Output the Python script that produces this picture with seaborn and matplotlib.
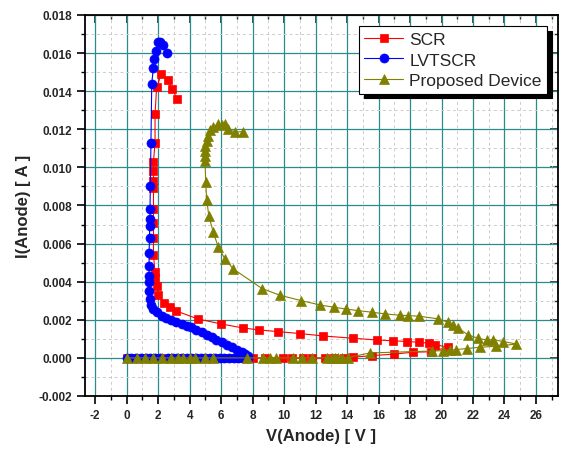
import matplotlib
matplotlib.use("Agg")
import matplotlib.pyplot as plt
import seaborn as sns
import pandas as pd
from matplotlib.ticker import MultipleLocator, FormatStrFormatter

# SCR: lower branch then snapback / upper branch
scr_v = [0.0, 0.6, 1.2, 1.8, 2.4, 2.9, 3.6, 4.3, 5.0, 5.8, 6.5, 7.2, 8.0, 8.8,
         9.9, 10.5, 11.2, 11.8, 12.6, 13.2, 13.8, 14.4, 15.6, 17.0, 18.2, 19.3, 20.4,
         19.6, 19.2, 18.6, 17.8, 16.9, 15.9, 14.4, 12.5, 11.0, 9.6, 8.4, 7.4, 6.0,
         4.5, 3.1, 2.75, 2.4, 2.0, 1.9, 1.8, 1.8, 1.7, 1.7, 1.7, 1.7, 1.7, 1.7,
         1.7, 1.7, 1.8, 1.8, 1.9, 2.2, 2.6, 2.9, 3.2]
scr_i = [0.0, 0.0, 0.0, 0.0, 0.0, 0.0, 0.0, 0.0, 0.0, 0.0, 0.0, 0.0, 0.0, 0.0,
         0.0, 0.0, 0.0, 0.0, 0.0, 0.0, 0.00002, 0.00004, 0.00012, 0.0002, 0.0003, 0.00032, 0.00056,
         0.0007, 0.00077, 0.00082, 0.00086, 0.0009, 0.00094, 0.00103, 0.00115, 0.00128, 0.00138, 0.00147, 0.00157, 0.00178,
         0.00205, 0.00248, 0.00266, 0.0029, 0.0033, 0.0038, 0.0042, 0.0045, 0.0054, 0.0063, 0.0071, 0.0078, 0.0089, 0.0093,
         0.0098, 0.0103, 0.0113, 0.0128, 0.0142, 0.0149, 0.0146, 0.0141, 0.0136]

# LVTSCR
lvt_v = [0.0, 0.3, 0.6, 0.9, 1.2, 1.5, 1.8, 2.1, 2.6, 2.9, 3.2, 3.5, 3.8, 4.1, 4.4,
         4.7, 5.0, 5.3, 5.6, 5.9, 6.2, 6.5, 6.8, 7.1, 7.4, 7.7,
         7.72, 7.5, 7.3, 7.0, 6.7, 6.4, 6.03, 5.7, 5.4, 5.1, 4.76, 4.4, 4.1, 3.8, 3.49,
         3.1, 2.8, 2.5, 2.22, 1.95, 1.69, 1.55, 1.45, 1.42, 1.42, 1.42, 1.42, 1.42,
         1.45, 1.45, 1.48, 1.48, 1.5, 1.54, 1.59, 1.69, 1.75, 1.84, 1.97, 2.11, 2.33, 2.54]
lvt_i = [0.0] * 26 + \
        [0.00012, 0.0002, 0.0003, 0.00044, 0.00058, 0.0007, 0.00082, 0.00096, 0.00108, 0.0012, 0.00135, 0.00148, 0.0016, 0.00168, 0.00178,
         0.0019, 0.002, 0.0021, 0.00222, 0.0024, 0.00255, 0.0028, 0.0031, 0.0035, 0.004, 0.0043, 0.0048, 0.0055,
         0.0063, 0.0069, 0.0073, 0.0078, 0.009, 0.0113, 0.0144, 0.0152, 0.0157, 0.0161, 0.0166, 0.0166, 0.0164, 0.016]

# Proposed device
prop_v = [0.0, 0.63, 1.16, 1.69, 2.22, 2.8, 3.28, 3.6, 4.0, 4.34, 4.97, 5.5, 7.62, 8.67, 9.1, 9.5,
          10.54, 11.11, 11.75, 12.7, 13.02, 13.22, 13.44, 13.65, 14.07, 15.45, 19.37, 20.1, 20.53,
          20.95, 21.59, 22.43, 23.49, 24.76,
          23.91, 23.28, 22.86, 22.32, 21.69, 21.05, 20.74, 20.42, 19.78, 18.58, 17.88, 17.35,
          16.4, 15.56, 14.71, 13.92, 13.16, 12.27, 11.07, 9.73, 8.6, 6.77, 6.24, 5.82, 5.5,
          5.22, 5.08, 5.02, 4.97, 4.97, 5.0, 5.0, 5.08, 5.14, 5.29, 5.5, 5.82, 6.07, 6.24,
          6.45, 6.88, 7.4]
prop_i = [0.0] * 24 + \
         [0.00002, 0.00026, 0.00036, 0.00038, 0.00042,
          0.00044, 0.00049, 0.00056, 0.00061, 0.00073,
          0.00086, 0.00096, 0.00094, 0.00103, 0.00121, 0.00156, 0.00173, 0.00187, 0.00205, 0.00219, 0.00222, 0.00224,
          0.00231, 0.0024, 0.00248, 0.00257, 0.00266, 0.00278, 0.00301, 0.00329, 0.00364, 0.00467, 0.0052, 0.00581, 0.0066,
          0.00744, 0.00831, 0.00925, 0.01036, 0.01062, 0.01088, 0.01114, 0.01141, 0.01167, 0.01198, 0.01211, 0.01228, 0.01223, 0.01228,
          0.01202, 0.01185, 0.01188]

series = [
    ("SCR", scr_v, scr_i, "#ff0000", "s", 5.5),
    ("LVTSCR", lvt_v, lvt_i, "#0000ff", "o", 6.5),
    ("Proposed Device", prop_v, prop_i, "#808000", "^", 7),
]

sns.set_style("ticks")
plt.rcParams["font.family"] = ["Liberation Sans", "DejaVu Sans"]
plt.rcParams["axes.unicode_minus"] = False

fig = plt.figure(figsize=(5.69, 4.60), dpi=100)
ax = fig.add_axes([85 / 569, 63 / 460, 473 / 569, 381 / 460])

for name, v, i, col, mk, ms in series:
    df = pd.DataFrame({"v": v, "i": i})
    sns.lineplot(data=df, x="v", y="i", sort=False, estimator=None, ax=ax,
                 color=col, lw=0.8, marker=mk, markersize=ms,
                 markeredgecolor=col, markeredgewidth=0.5, label=name)

ax.set_xlim(-2.65, 27.4)
ax.set_ylim(-0.002, 0.018)
ax.xaxis.set_major_locator(MultipleLocator(2))
ax.xaxis.set_minor_locator(MultipleLocator(1))
ax.yaxis.set_major_locator(MultipleLocator(0.002))
ax.yaxis.set_minor_locator(MultipleLocator(0.001))
ax.yaxis.set_major_formatter(FormatStrFormatter("%.3f"))

ax.grid(which="major", color="#2a8c8c", lw=0.9, ls="-")
ax.grid(which="minor", color="#cccccc", lw=0.7, ls=(0, (3, 3)))
ax.set_axisbelow(True)

ax.tick_params(which="both", bottom=True, left=True, top=False, right=False,
               direction="out", color="black")
ax.tick_params(which="major", length=6, width=1.2, labelsize=8.5)
ax.tick_params(which="minor", length=3, width=1.0)
for lab in ax.get_xticklabels() + ax.get_yticklabels():
    lab.set_fontweight("bold")

# inward ticks on the top and right edges
sec_x = ax.secondary_xaxis("top")
sec_x.xaxis.set_major_locator(MultipleLocator(2))
sec_x.xaxis.set_minor_locator(MultipleLocator(1))
sec_x.tick_params(which="both", direction="in", labeltop=False)
sec_x.tick_params(which="major", length=6, width=1.2)
sec_x.tick_params(which="minor", length=3, width=1.0)
sec_y = ax.secondary_yaxis("right")
sec_y.yaxis.set_major_locator(MultipleLocator(0.002))
sec_y.yaxis.set_minor_locator(MultipleLocator(0.001))
sec_y.tick_params(which="both", direction="in", labelright=False)
sec_y.tick_params(which="major", length=6, width=1.2)
sec_y.tick_params(which="minor", length=3, width=1.0)
sec_x.spines["top"].set_visible(False)
sec_y.spines["right"].set_visible(False)

for sp in ax.spines.values():
    sp.set_visible(True)
    sp.set_linewidth(1.3)
    sp.set_color("black")

ax.set_xlabel("V(Anode) [ V ]", fontsize=12, fontweight="bold", labelpad=5)
ax.set_ylabel("I(Anode) [ A ]", fontsize=12, fontweight="bold", labelpad=5)

leg = ax.legend(loc="upper right", fontsize=12.5,
                frameon=True, fancybox=False,
                shadow={"color": "black", "alpha": 1, "ox": 3.5, "oy": -3.5},
                borderpad=0.3, labelspacing=0.33, handlelength=2.25,
                handletextpad=0.35, borderaxespad=0.65)
leg.get_frame().set_edgecolor("black")
leg.get_frame().set_linewidth(0.8)
leg.get_frame().set_alpha(1)

fig.savefig("out.png", dpi=100)
